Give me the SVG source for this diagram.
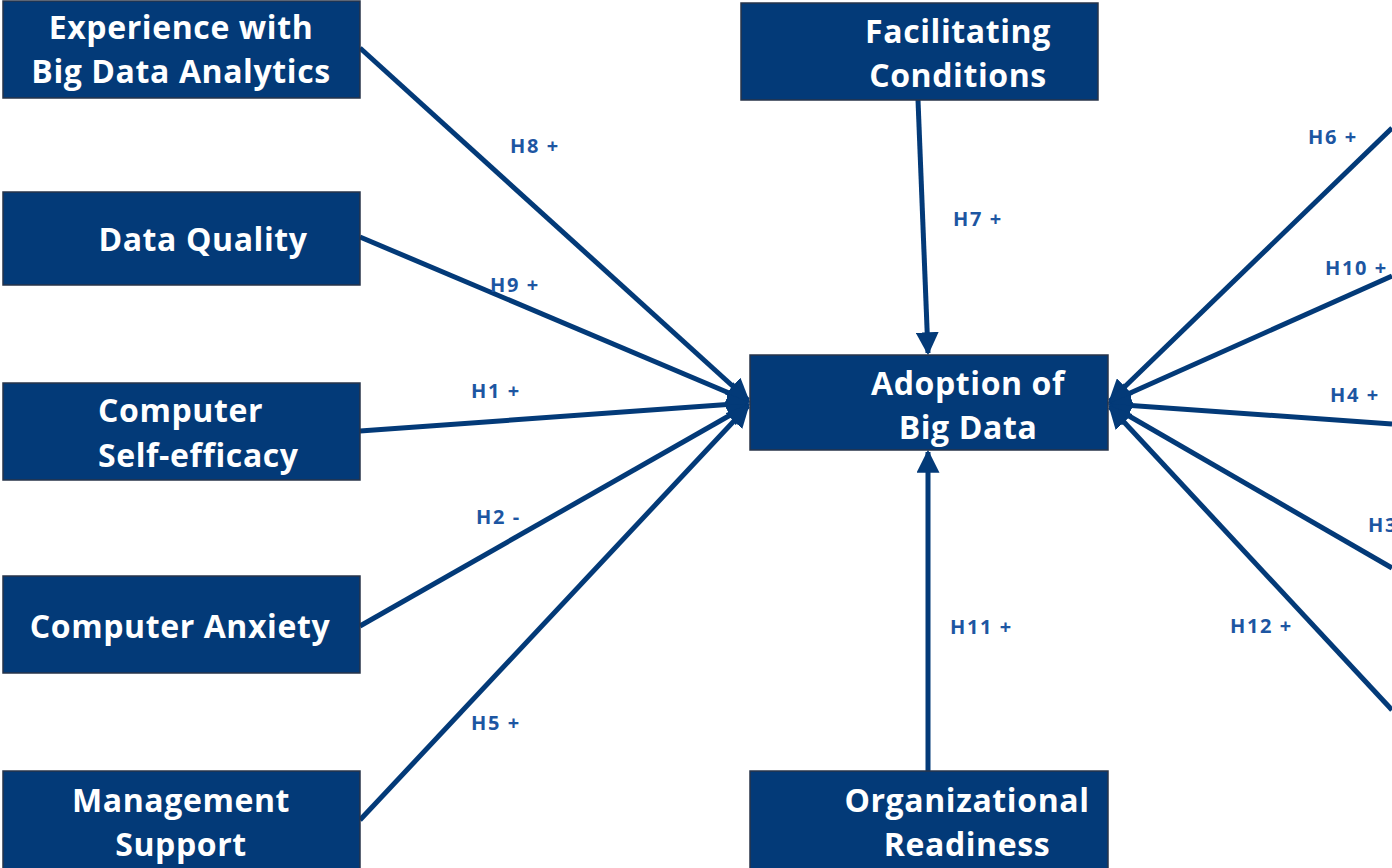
<svg xmlns="http://www.w3.org/2000/svg" width="1392" height="868" viewBox="0 0 1392 868">
  <defs>
    <marker id="arrow" viewBox="0 0 10 10" refX="9" refY="5" markerWidth="4.6" markerHeight="4.6" markerUnits="strokeWidth" orient="auto">
      <path d="M0,0 L10,5 L0,10 Z" fill="#033a78"/>
    </marker>
    <style>
      .box { fill: #033a78; stroke: #28354a; stroke-width: 1.5; }
      .title { font-family: "Open Sans", "DejaVu Sans", sans-serif; font-weight: 700; font-size: 32px; letter-spacing: 0.6px; fill: #ffffff; }
      .link { stroke: #033a78; stroke-width: 5; fill: none; }
      .lbl { font-family: "Open Sans", "DejaVu Sans", sans-serif; font-weight: 700; font-size: 20px; letter-spacing: 1.6px; fill: #1d56a2; }
    </style>
  </defs>
  <rect width="1392" height="868" fill="#ffffff"/>

  <!-- paths into the central construct -->
  <g id="connectors">
    <line class="link" x1="360" y1="48" x2="748" y2="400" marker-end="url(#arrow)"/>
    <line class="link" x1="360" y1="237" x2="748" y2="401" marker-end="url(#arrow)"/>
    <line class="link" x1="360" y1="431" x2="748" y2="403" marker-end="url(#arrow)"/>
    <line class="link" x1="360" y1="626" x2="748" y2="405" marker-end="url(#arrow)"/>
    <line class="link" x1="360" y1="820" x2="748" y2="406" marker-end="url(#arrow)"/>
    <line class="link" x1="918" y1="100" x2="928" y2="353" marker-end="url(#arrow)"/>
    <line class="link" x1="928" y1="771" x2="928" y2="452" marker-end="url(#arrow)"/>
    <line class="link" x1="1392" y1="128" x2="1110" y2="401" marker-end="url(#arrow)"/>
    <line class="link" x1="1392" y1="276" x2="1110" y2="402" marker-end="url(#arrow)"/>
    <line class="link" x1="1392" y1="424" x2="1110" y2="404" marker-end="url(#arrow)"/>
    <line class="link" x1="1392" y1="568" x2="1110" y2="405" marker-end="url(#arrow)"/>
    <line class="link" x1="1392" y1="710" x2="1110" y2="407" marker-end="url(#arrow)"/>
  </g>

  <!-- hypothesis labels -->
  <g id="labels">
    <text class="lbl" x="510" y="153">H8 +</text>
    <text class="lbl" x="490" y="292">H9 +</text>
    <text class="lbl" x="471" y="398">H1 +</text>
    <text class="lbl" x="476" y="524">H2 -</text>
    <text class="lbl" x="471" y="730">H5 +</text>
    <text class="lbl" x="953" y="226">H7 +</text>
    <text class="lbl" x="950" y="634">H11 +</text>
    <text class="lbl" x="1308" y="144">H6 +</text>
    <text class="lbl" x="1325" y="275">H10 +</text>
    <text class="lbl" x="1330" y="402">H4 +</text>
    <text class="lbl" x="1368" y="532">H3</text>
    <text class="lbl" x="1230" y="633">H12 +</text>
  </g>

  <g id="experience">
    <rect class="box" x="3" y="1" width="357" height="97"/>
    <text class="title" x="181" y="39" text-anchor="middle">Experience with</text>
    <text class="title" x="181" y="83" text-anchor="middle">Big Data Analytics</text>
  </g>
  <g id="data-quality">
    <rect class="box" x="3" y="192" width="357" height="93"/>
    <text class="title" x="203" y="251" text-anchor="middle">Data Quality</text>
  </g>
  <g id="self-efficacy">
    <rect class="box" x="3" y="383" width="357" height="97"/>
    <text class="title" x="98" y="422">Computer</text>
    <text class="title" x="98" y="467">Self-efficacy</text>
  </g>
  <g id="anxiety">
    <rect class="box" x="3" y="576" width="357" height="97"/>
    <text class="title" x="180" y="638" text-anchor="middle">Computer Anxiety</text>
  </g>
  <g id="management">
    <rect class="box" x="3" y="771" width="357" height="100"/>
    <text class="title" x="181" y="812" text-anchor="middle">Management</text>
    <text class="title" x="181" y="856" text-anchor="middle">Support</text>
  </g>
  <g id="facilitating">
    <rect class="box" x="741" y="3" width="357" height="97"/>
    <text class="title" x="958" y="43" text-anchor="middle">Facilitating</text>
    <text class="title" x="958" y="87" text-anchor="middle">Conditions</text>
  </g>
  <g id="adoption">
    <rect class="box" x="750" y="355" width="358" height="95"/>
    <text class="title" x="968" y="395" text-anchor="middle">Adoption of</text>
    <text class="title" x="968" y="439" text-anchor="middle">Big Data</text>
  </g>
  <g id="readiness">
    <rect class="box" x="750" y="771" width="358" height="100"/>
    <text class="title" x="967" y="812" text-anchor="middle">Organizational</text>
    <text class="title" x="967" y="856" text-anchor="middle">Readiness</text>
  </g>
</svg>
